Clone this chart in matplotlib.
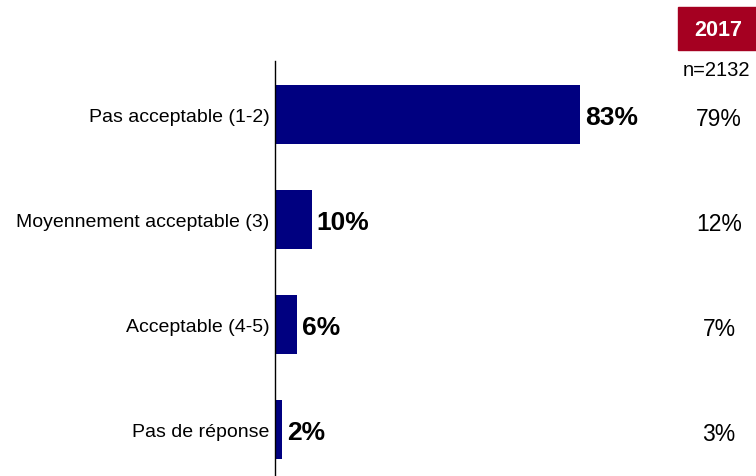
import matplotlib.pyplot as plt
from matplotlib.transforms import blended_transform_factory
from matplotlib.patches import Rectangle

plt.rcParams['font.family'] = ['Liberation Sans', 'DejaVu Sans']

categories = ['Pas acceptable (1-2)', 'Moyennement acceptable (3)',
              'Acceptable (4-5)', 'Pas de réponse']
values_2019 = [83, 10, 6, 2]
values_2017 = [79, 12, 7, 3]
year_prev = '2017'
n_prev = 'n=2132'

W, H = 756, 477
fig = plt.figure(figsize=(W / 100, H / 100), dpi=100)

# axes placed in pixel terms: spine at x=275, 1% = 3.675 px
left, top, bottom = 275, 62, 477
ax = fig.add_axes([left / W, 1 - bottom / H, 367.5 / W, (bottom - top) / H])

ypos = list(range(len(categories)))
ax.barh(ypos, values_2019, height=0.56, color='#000080')
ax.set_xlim(0, 100)
ax.set_ylim(3.44, -0.51)

for y, v in zip(ypos, values_2019):
    ax.text(v + 1.3, y + 0.02, f'{v}%', va='center', ha='left',
            fontsize=19, fontweight='bold', color='black')

ax.set_yticks(ypos)
ax.set_yticklabels(categories, fontsize=14)
ax.tick_params(axis='y', length=0, pad=4)
ax.set_xticks([])
for s in ['top', 'right', 'bottom']:
    ax.spines[s].set_visible(False)
ax.spines['left'].set_linewidth(1)

# previous-year column on the right
tr = blended_transform_factory(fig.transFigure, ax.transData)
for y, v in zip(ypos, values_2017):
    ax.text(719 / W, y + 0.04, f'{v}%', transform=tr, ha='center', va='center',
            fontsize=16.5, color='black')

fig.patches.append(Rectangle((678 / W, 1 - 51 / H), 78 / W, 43 / H,
                             transform=fig.transFigure, color='#A50021'))
fig.text(718 / W, 1 - 30 / H, year_prev, ha='center', va='center',
         fontsize=15.5, fontweight='bold', color='white')
fig.text(716 / W, 1 - 70 / H, n_prev, ha='center', va='center',
         fontsize=14.5, color='black')

fig.savefig('out.png', dpi=100)
